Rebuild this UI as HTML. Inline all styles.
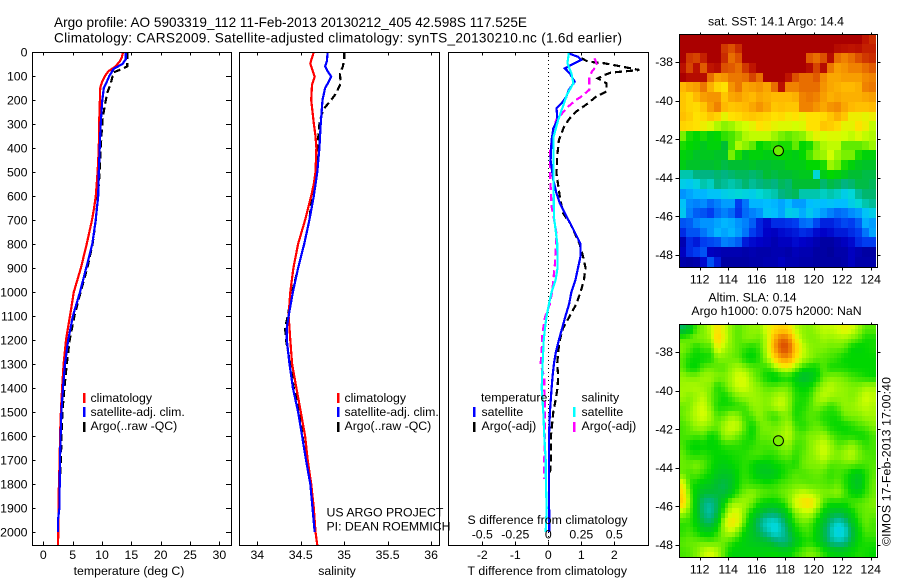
<!DOCTYPE html>
<html lang="en">
<head>
<meta charset="utf-8">
<title>Argo profile 5903319_112</title>
<style>
html,body{margin:0;padding:0;background:#fff;}
svg{display:block;font-family:"Liberation Sans",Arial,sans-serif;}
text{fill:#000;font-size:12.3px;}
.ttl{font-size:13.6px;}
</style>
</head>
<body>
<svg id="fig" xmlns="http://www.w3.org/2000/svg" width="900" height="580" viewBox="0 0 900 580">
<rect width="900" height="580" fill="#fff"/>
<defs>
<clipPath id="c1"><rect x="32" y="52" width="199" height="493"/></clipPath>
<clipPath id="c2"><rect x="239" y="52" width="200" height="493"/></clipPath>
<clipPath id="c3"><rect x="448" y="52" width="200" height="493"/></clipPath>
</defs>
<text class="ttl" x="54" y="27" textLength="473">Argo profile: AO 5903319_112 11-Feb-2013 20130212_405 42.598S 117.525E</text>
<text class="ttl" x="54" y="42.5" textLength="568">Climatology: CARS2009. Satellite-adjusted climatology: synTS_20130210.nc (1.6d earlier)</text>
<g id="layer-maps"></g>
<g id="layer-profiles"></g>

<g>
<rect x="83" y="393" width="2.5" height="10" fill="#f00"/>
<rect x="83" y="407" width="2.5" height="10" fill="#00f"/>
<rect x="83" y="422" width="2.5" height="10" fill="#000"/>
<text x="90.5" y="402">climatology</text>
<text x="90.5" y="416">satellite-adj. clim.</text>
<text x="90.5" y="430">Argo(..raw -QC)</text>
</g>
<g>
<rect x="337" y="393" width="2.5" height="10" fill="#f00"/>
<rect x="337" y="407" width="2.5" height="10" fill="#00f"/>
<rect x="337" y="422" width="2.5" height="10" fill="#000"/>
<text x="344.5" y="402">climatology</text>
<text x="344.5" y="416">satellite-adj. clim.</text>
<text x="344.5" y="430">Argo(..raw -QC)</text>
</g>
<text x="326.5" y="516.5">US ARGO PROJECT</text>
<text x="326.5" y="530.5" textLength="124">PI: DEAN ROEMMICH</text>
<g>
<text x="481" y="401.5">temperature</text>
<text x="581.5" y="401.5">salinity</text>
<rect x="473" y="407" width="2.5" height="10" fill="#00f"/>
<rect x="473" y="422" width="2.5" height="10" fill="#000"/>
<rect x="573" y="407" width="2.5" height="10" fill="#0ff"/>
<rect x="573" y="422" width="2.5" height="10" fill="#f0f"/>
<text x="481.5" y="416">satellite</text>
<text x="481.5" y="430">Argo(-adj)</text>
<text x="581.5" y="416">satellite</text>
<text x="581.5" y="430">Argo(-adj)</text>
</g>
<text x="129" y="575" text-anchor="middle">temperature (deg C)</text>
<text x="337" y="575" text-anchor="middle">salinity</text>
<text x="467.5" y="524" textLength="160">S difference from climatology</text>
<text x="467.5" y="575" textLength="159.5">T difference from climatology</text>
<text x="776" y="25.5" text-anchor="middle">sat. SST: 14.1 Argo: 14.4</text>
<text x="752.5" y="301.5" text-anchor="middle">Altim. SLA: 0.14</text>
<text x="776.5" y="315" text-anchor="middle">Argo h1000: 0.075 h2000: NaN</text>
<text transform="translate(890.5,546) rotate(-90)" textLength="169">©IMOS 17-Feb-2013 17:00:40</text>
</svg>
<script>
// ---- profile data: depths (m) and readings ----
const tempDepthRed=[0,20,40,60,80,100,125,150,200,300,400,500,600,650,700,800,900,1000,1100,1200,1300,1400,1500,1600,1700,1800,1900,2000,2054];
const tempClim=[13.6,13.4,13,12.3,11.1,10.5,10,9.7,9.65,9.5,9.45,9.25,8.95,8.65,8.3,7.4,6.4,5.2,4.55,3.87,3.45,3.2,3,2.85,2.8,2.65,2.6,2.55,2.5];
const tempDepthBlue=[0,30,50,70,100,125,150,200,300,400,500,600,700,800,900,1000,1100,1200,1300,1400,1500,1600,1700,1800,1900,1950,2000];
const tempSat=[14.05,14.05,13.5,12,11.25,10.8,10.3,10.05,9.78,9.6,9.45,9.35,8.92,8.35,7.3,6.25,5.05,4.25,3.7,3.35,3.08,2.95,2.85,2.8,2.75,2.5,2.5];
const tempDepthBlack=[0,60,75,85,100,130,170,220,280,350,400,500,600,700,800,900,1000,1100,1200,1300,1400,1500,1600,1700,1760];
const tempArgo=[14.3,14.3,13,11.9,11.8,11.5,10.9,10.5,10.1,9.9,9.8,9.6,9.3,8.95,8.4,7.5,6.35,5.3,4.5,4,3.6,3.25,3.1,3,2.9];

const salDepthRed=[0,47,82,103,137,200,297,350,400,500,550,600,700,800,900,1000,1100,1150,1200,1300,1400,1500,1600,1700,1800,1900,2000,2054];
const salClim=[34.65,34.61,34.64,34.66,34.63,34.62,34.65,34.67,34.68,34.67,34.65,34.62,34.55,34.47,34.415,34.38,34.36,34.37,34.38,34.4,34.45,34.5,34.55,34.58,34.62,34.65,34.67,34.69];
const salDepthBlue=[0,40,60,80,103,125,150,200,300,400,500,600,700,800,900,1000,1100,1150,1200,1300,1400,1500,1600,1700,1800,1900,2000];
const salSat=[34.81,34.8,34.78,34.81,34.85,34.82,34.78,34.75,34.73,34.715,34.69,34.65,34.6,34.54,34.47,34.41,34.36,34.34,34.34,34.37,34.41,34.47,34.515,34.56,34.61,34.635,34.66];
const salDepthBlack=[0,30,60,90,130,170,200,230,260,300,400,500,600,700,800,900,1000,1100,1150,1200,1300,1400,1500,1600,1700,1770];
const salArgo=[35,35,34.985,34.95,34.96,34.91,34.85,34.78,34.74,34.715,34.69,34.68,34.63,34.6,34.54,34.47,34.4,34.35,34.32,34.33,34.38,34.42,34.485,34.52,34.56,34.6];

const dtDepthSat=[5,20,33,50,68,89,124,158,186,214,235,283,318,367,450,533,589,630,693,717,800,850,900,950,1000,1050,1100,1150,1200,1250,1300,1350,1400,1500,1600,1800,2000];
const dtSat=[0.6,0.9,1,0.75,0.5,0.65,0.8,0.62,0.55,0.4,0.25,0.28,0.15,0.1,0.07,0.15,0.25,0.35,0.58,0.68,0.98,0.98,0.9,0.82,0.7,0.63,0.52,0.42,0.32,0.23,0.17,0.13,0.1,0.05,0.02,0.02,0.03];
const dtDepthArgo=[26,40,47,60,75,86,96,110,130,165,186,214,248,276,311,367,436,506,603,672,717,800,850,900,950,1000,1050,1100,1150,1200,1250,1300,1350,1400,1450,1500,1600,1700,1760];
const dtArgo=[1,1.2,1.7,2.2,2.76,1.9,1.7,1.5,1.76,1.76,1.45,1.2,0.85,0.65,0.48,0.32,0.27,0.25,0.35,0.45,0.68,0.95,1.05,1.13,1.08,0.98,0.85,0.65,0.45,0.35,0.3,0.27,0.3,0.28,0.22,0.15,0.08,0.08,0.05];
const dsDepthSat=[5,47,89,130,179,228,283,353,436,575,693,717,800,900,950,1000,1050,1100,1150,1200,1300,1400,1500,1600,1700,1800,1900,2000];
const dsSat=[0.155,0.145,0.175,0.19,0.14,0.11,0.075,0.04,0.04,0.04,0.043,0.05,0.068,0.07,0.055,0.025,0.005,-0.013,-0.025,-0.035,-0.043,-0.05,-0.038,-0.03,-0.02,-0.018,-0.012,-0.02];
const dsDepthArgo=[26,54,82,103,158,186,200,228,283,353,408,478,533,644,717,760,825,883,939,995,1050,1105,1175,1245,1300,1355,1395,1410,1470,1525,1700,1780];
const dsArgo=[0.35,0.37,0.33,0.31,0.31,0.25,0.21,0.15,0.06,0.03,0.015,0.012,0.015,0.025,0.05,0.063,0.055,0.05,0.04,0.03,0.012,-0.025,-0.045,-0.05,-0.058,-0.03,-0.03,-0.03,-0.025,-0.025,-0.03,-0.03];

// ---- axis tick labels ----
const depthTicks=[0,100,200,300,400,500,600,700,800,900,1000,1100,1200,1300,1400,1500,1600,1700,1800,1900,2000];
const tempTicks=[0,5,10,15,20,25,30];
const salTicks=[34,34.5,35,35.5,36];
const dtTicks=[-2,-1,0,1,2];
const dsTicks=[-0.5,-0.25,0,0.25,0.5];
const lonTicks=[112,114,116,118,120,122,124];
const latTicks=[-38,-40,-42,-44,-46,-48];

// ---- map grids: rows north to south, 0.5 degree cells ----
const sstGrid=[
[18.3,18.3,18.3,18.3,18.3,18.3,18.3,18.3,18.3,18.3,18.3,18.3,18.3,18.3,18.3,18.3,18.3,18.3,18.3,18.3,18.3,18.3,18.3,18.3,18.3,18.3,17.8,17.6],
[18.3,18.3,18.3,18.3,18.3,18.3,17.5,17.3,17.6,18.3,18.3,18.3,18.3,18.3,18.3,18.3,18.3,18.3,18.3,18.3,18.3,18.3,18,17.9,17.8,17.9,17.7,17.7],
[18.3,17.5,17.4,17.7,18.3,18.3,17.6,17,17.3,18.3,18.3,18.3,18.3,18.3,18.3,18.3,18.3,18.3,17.2,17,17.3,18,17,16.8,17,17.3,17.5,17.6],
[17.9,17.4,17.9,17.2,17.8,18,17.3,17.2,17,17.5,17.8,18.3,18.3,18.3,18.3,18.3,18.3,18.3,18,17.4,18,16.9,16.5,16.6,16.8,16.8,17,17.2],
[18.3,18,18,18,17,16.5,16.6,16.9,16.9,17,17.4,17,18.3,18.3,18.3,17.8,17.3,17,17,17.2,16.7,16.4,16.4,16.5,16.5,16.5,16.7,16.8],
[16.2,16.4,16.5,16.9,16.3,15.8,15.6,16.6,16.9,16.4,16.5,16.6,16.4,17,17.9,16.8,16.8,17,17,17,16.6,16.4,16.3,16.2,16.2,16.3,16.8,16.9],
[16,15.8,16.2,16.5,16.6,16.6,16,16.4,16.5,16.3,16.2,16.4,16.3,16.2,16.2,16.2,16.3,16.8,16.9,16.8,16.5,16.3,16.4,16.3,16.3,16.3,16.4,16.5],
[16,15.8,15.7,16,16.5,16.8,16.2,16,16.1,16.2,16.4,16.6,16.4,16,16.1,16,16,16.8,16.8,16.6,16.4,16.6,16.7,16.4,16.2,16.1,16.1,16.2],
[16.1,15.9,15.6,15.7,16,15.8,15.3,15.6,15.7,15.9,16,15.9,15.8,15.6,15.7,15.5,15.6,15.4,15.6,15.6,15.7,16,16.3,16,15.4,15.4,15.3,15.4],
[15.8,15.7,15.6,15.4,15.2,14.9,14.7,14.8,15,15.1,15.3,15.6,15.5,15.3,15.2,15.2,15.1,15.2,15.6,15.6,16,15.9,15.7,15.3,15.3,15.6,15.4,15],
[14.6,14.2,14.1,14.2,14,14.1,14.3,14.4,14.6,14.9,15,15,15,14.8,14.6,14.5,14.6,14.7,15,15.3,15.1,15.2,15.2,15.1,15,15.2,15,14.9],
[14.2,14.1,14,13.8,14,14,13.6,14.4,14.9,14.7,14.5,14.1,14.2,14.3,14.2,14.2,14.5,14.1,14.2,14.6,14.9,15,15,14.5,14.5,14.5,14.6,14.8],
[14,13.9,13.7,13.8,13.8,13.7,13.7,14.6,14.2,13.8,14,14,13.9,14,14.1,14,13.9,14.1,14.4,14.7,14.8,15.1,14.8,14.6,14.6,14.2,14,14],
[13.9,13.7,13.7,13.6,13.6,13.7,13.5,13.6,13.6,13.6,13.7,13.6,13.6,13.7,13.7,13.9,13.9,13.9,14.1,14.1,14.2,14.8,14.6,14.2,14,13.8,13.7,13.7],
[13,13,13.2,13.2,13.2,13.3,13.2,13.3,13.4,13.4,13.3,13.4,13.6,13.5,13.6,13.6,13.7,13.8,13.8,12.8,13.9,14.1,14,13.8,13.6,13.6,13.5,13.5],
[12.6,12.5,12.7,13,12.9,13.2,13.1,13,13.1,13.3,13.1,13.2,13.3,13.2,13.4,13.3,13.6,13.6,13.6,13.6,13.3,13.5,13.4,13.2,13.3,13.5,13.5,13.4],
[11.8,12,12.2,12.2,12.4,12.4,12.6,12.7,12.8,12.7,12.6,12.8,12.9,13,13.2,13.3,13.4,13,13,13,12.9,13,12.9,12.6,12.8,13.1,13.3,13.3],
[12.4,11.7,11.6,11.7,11.4,11.6,11.9,11.9,11,11.5,12.2,12.2,12.3,12.2,12,12.3,11.9,11.9,12.3,12.4,12.3,12.4,12.3,12.3,12.6,12.8,13,13.1],
[12.5,11.6,11.3,11.2,11,11.4,11.6,11.4,10.9,11.4,11.6,11.8,12.4,12.3,12,12.6,12.5,12.1,12.5,12.2,11.9,11.6,11.4,11.5,11.7,11.9,12.4,12.6],
[11.2,11.3,11.6,11.8,11.8,12,12.2,12.1,11.8,11.6,11.3,10.7,10.4,10.8,10.8,10.9,11,11.4,11.5,11.1,10.7,10.7,10.9,11.1,11,11.3,12.1,11.9],
[10.8,11.2,11.2,11.5,11.8,12.2,12,12.2,11.9,11.5,11,10.7,10.3,10.2,10.4,10.5,10.6,10.8,10.7,10.4,10.3,10.4,10.6,10.6,10.8,11,11.5,12],
[10,10.8,10.6,11,11.1,11.2,11.6,11.5,11.3,10.6,10.4,10.3,10.2,10,10.2,10.2,10.4,10.3,10.2,10,9.8,9.8,10,10.2,10.4,10.8,11,11],
[10.2,10.8,11,11.2,10.2,10.1,10,10,10,9.9,10,9.9,9.9,10,10,9.9,10.1,10,10,9.8,9.8,9.7,9.9,9.9,10.2,10,9.8,9.8],
[9.9,9.8,9.9,10.4,11.2,10.6,9.8,9.8,9.8,9.8,9.9,9.9,10,10,10.2,10,10,9.9,9.9,9.8,9.8,9.8,9.8,9.9,10.2,9.9,9.9,9.9]
];
const slaGrid=[
[-.2,-.1,.1,.15,.25,.42,.28,.15,.1,.15,.18,.18,.3,.42,.5,.45,.25,.18,.15,.2,.25,.25,.28,.35,.3,.2,.1,.1],
[.1,.12,.15,.15,.2,.5,.3,.15,.1,.15,.15,.12,.25,.6,.82,.78,.4,.2,.15,.15,.2,.18,.2,.2,.15,.1,.02,.02],
[.15,.1,.02,.08,.08,.35,.22,.15,.1,.05,.02,.08,.25,.65,.9,.9,.55,.28,.18,.15,.15,.12,.12,.1,0,-.03,0,.02],
[.1,.02,0,0,.02,.15,.15,.12,.1,0,-.02,.05,.2,.45,.7,.72,.45,.25,.18,.12,.1,.08,.05,0,0,0,0,0],
[.1,0,0,.1,.12,.1,.1,.18,.22,.15,.1,.08,.05,.15,.28,.32,.18,.05,0,0,.1,.02,.02,.02,0,0,0,0],
[.18,.15,.15,.2,.2,.15,.15,.22,.3,.28,.15,.08,0,-.05,0,.02,-.05,-.15,-.12,-.03,.1,.15,.15,.12,.08,.05,.02,0],
[.2,.22,.22,.18,.15,.02,.1,.2,.28,.28,.2,.15,.1,.1,.12,.12,.02,-.02,0,.1,.2,.25,.2,.18,.15,.15,.2,.2],
[.2,.15,.2,.25,.12,.05,0,.08,.15,.18,.2,.18,.15,.2,.25,.18,.05,.02,.05,.18,.25,.2,.18,.18,.15,.2,.28,.25],
[.12,.15,.25,.28,.15,.02,.02,.02,.05,.08,.18,.18,.15,.22,.27,.18,.03,.02,.08,.15,.12,.05,.1,.18,.18,.22,.25,.22],
[.12,.18,.25,.3,.2,.08,.12,.2,.15,.05,.1,.18,.1,.05,.12,.15,.02,.05,.1,.08,.03,.02,.02,.12,.15,.15,.2,.2],
[.08,.12,.2,.2,.15,.12,.22,.28,.25,.08,0,.12,.15,.12,.15,.22,.08,.03,.08,.12,.08,.02,0,0,.03,.08,.1,.15],
[.08,.1,.08,.1,0,.05,.2,.2,.12,.05,0,.12,.12,.15,.2,.25,.12,.1,.15,.15,.2,.1,.05,.02,.02,0,.02,.08],
[.08,0,-.02,0,-.02,0,.05,.05,.05,.02,.05,.08,.08,.1,.15,.18,.08,.08,.15,.22,.28,.2,.1,.12,.18,.12,.05,.08],
[.12,.05,.03,.05,.02,0,0,.02,.03,.05,.08,.08,.05,.05,.1,.12,.05,.1,.15,.2,.28,.2,.15,.2,.25,.15,.1,.08],
[.12,.12,.15,.1,.03,-.03,-.05,0,.02,.05,0,-.05,-.05,0,.02,.05,.02,.12,.15,.15,.18,.1,.1,.12,.12,.1,.08,.1],
[.12,.08,.1,.05,0,-.08,-.1,-.08,.02,.05,0,-.08,-.1,-.08,0,.05,.1,.08,.1,.12,.1,.05,.08,.05,-.02,-.08,.02,.1],
[.35,.05,0,-.05,-.08,-.15,-.18,-.1,.02,.08,.05,.05,.03,.05,.08,.1,.12,.12,.1,.1,.1,.08,.12,.05,-.05,-.12,.02,.12],
[.45,.12,-.05,-.15,-.15,-.15,-.15,-.05,.08,.15,.18,.12,.1,.08,.12,.15,.22,.28,.25,.2,.15,.15,.18,.1,0,-.03,.05,.12],
[.5,.15,-.08,-.25,-.28,-.18,0,.18,.2,.2,.12,.02,-.02,-.02,.02,.12,.3,.4,.45,.3,.1,.02,.02,.02,.08,.1,.12,.15],
[.2,.1,-.08,-.25,-.3,-.15,.12,.3,.3,.12,-.02,-.12,-.2,-.22,-.15,-.02,.15,.22,.25,.12,-.03,-.12,-.15,-.12,-.03,.08,.12,.12],
[.05,.05,-.03,-.18,-.2,-.05,.25,.42,.3,.05,-.1,-.25,-.35,-.38,-.3,-.12,.05,.12,.1,0,-.12,-.25,-.35,-.3,-.12,.02,.12,.08],
[.05,.08,.02,-.05,-.05,.05,.2,.25,.12,-.03,-.1,-.2,-.3,-.38,-.32,-.2,-.02,.05,.08,-.03,-.15,-.3,-.42,-.38,-.2,-.02,.08,.08],
[.1,.12,.12,.12,.1,.12,.12,.05,0,-.05,-.08,-.1,-.12,-.2,-.25,-.22,-.1,0,.03,-.02,-.12,-.25,-.3,-.28,-.15,0,.03,.03],
[.08,.1,.15,.25,.3,.22,.08,-.02,-.03,-.03,-.02,-.03,-.02,0,-.03,-.03,.05,.1,.15,.12,.05,-.02,-.05,-.05,0,.03,.02,0]
];
const argoLon=117.525;
const argoLat=-42.598;
const argoSst=14.55;
const argoSla=0.14;

// ---- axis functions ----
const depthY=d=>52+0.24*d;
const tempX=t=>43.3+5.87*t;
const salX=s=>257.3+86.9*(s-34);
const dtX=t=>548.3+33*t;
const dsX=s=>548.3+132*s;
const lonX=l=>699.7+14.25*(l-112);
const latY=(l,top)=>top+28+19.3*(-38-l);

// ---- colour ramp (deg C scale of the SST map) ----
const rampValues=[9.5,10.3,11,11.7,12.3,12.8,13.2,13.6,14.1,14.6,15.1,15.6,16.2,16.8,17.3,17.8,18.3];
const rampColors=[[0,0,140],[0,0,200],[0,60,240],[0,140,255],[0,190,255],[0,215,215],[0,180,130],[0,190,50],[0,215,0],[120,240,0],[210,255,0],[255,225,0],[255,185,0],[240,130,0],[220,80,0],[190,20,0],[170,0,0]];
function ramp(v){
  if(v<=rampValues[0])return 'rgb('+rampColors[0].join(',')+')';
  for(let i=1;i<rampValues.length;i++){
    if(v<=rampValues[i]){
      const f=(v-rampValues[i-1])/(rampValues[i]-rampValues[i-1]);
      const a=rampColors[i-1],b=rampColors[i];
      return 'rgb('+[0,1,2].map(k=>Math.round(a[k]+(b[k]-a[k])*f)).join(',')+')';
    }
  }
  return 'rgb('+rampColors[rampColors.length-1].join(',')+')';
}
const slaColor=s=>ramp(14.1+3.6*s);

const NS='http://www.w3.org/2000/svg';
function mk(tag,attrs,parent){
  const el=document.createElementNS(NS,tag);
  for(const k in attrs)el.setAttribute(k,attrs[k]);
  parent.appendChild(el);
  return el;
}
const profiles=document.getElementById('layer-profiles');
const maps=document.getElementById('layer-maps');

function drawLine(parent,clip,depths,vals,xf,color,dash,name){
  const pts=depths.map((d,i)=>xf(vals[i]).toFixed(1)+','+depthY(d).toFixed(1)).join(' ');
  const el=mk('polyline',{points:pts,fill:'none',stroke:color,'stroke-width':2.2,'stroke-dasharray':dash||'none','clip-path':'url(#'+clip+')','shape-rendering':'crispEdges'},parent);
  
  
}

function drawFrame(x0,x1,ticks,xf,labels,labelY,hasDepth){
  const y0=52,y1=545;
  const box=mk('rect',{x:x0+.5,y:y0+.5,width:x1-x0,height:y1-y0,fill:'none',stroke:'#000','stroke-width':1,'shape-rendering':'crispEdges'},profiles);
  
  
  ticks.forEach((t,i)=>{
    const x=Math.round(xf(t))+.5;
    const top=mk('line',{x1:x,x2:x,y1:y0,y2:y0+3.5,stroke:'#000','shape-rendering':'crispEdges'},profiles);
    
    
    const bot=mk('line',{x1:x,x2:x,y1:y1,y2:y1-3.5,stroke:'#000','shape-rendering':'crispEdges'},profiles);
    
    
    const lab=mk('text',{x:xf(t),y:labelY,'text-anchor':'middle'},profiles);
    lab.textContent=labels[i];
    
    
  });
  if(hasDepth){
    depthTicks.forEach(d=>{
      const y=Math.round(depthY(d))+.5;
      const l=mk('line',{x1:x0,x2:x0+3.5,y1:y,y2:y,stroke:'#000','shape-rendering':'crispEdges'},profiles);
      
      
      const r=mk('line',{x1:x1,x2:x1-5,y1:y,y2:y,stroke:'#000','shape-rendering':'crispEdges'},profiles);
      
      
      const lab=mk('text',{x:27.5,y:depthY(d)+4.5,'text-anchor':'end'},profiles);
      lab.textContent=d;
      
      
    });
  }
}

drawLine(profiles,'c1',tempDepthBlack,tempArgo,tempX,'#000','7 4','temperature-argo-line');
drawLine(profiles,'c1',tempDepthRed,tempClim,tempX,'#f00',null,'temperature-climatology-line');
drawLine(profiles,'c1',tempDepthBlue,tempSat,tempX,'#00f',null,'temperature-satellite-line');
drawFrame(32,231,tempTicks,tempX,tempTicks,559,true);

drawLine(profiles,'c2',salDepthBlack,salArgo,salX,'#000','7 4','salinity-argo-line');
drawLine(profiles,'c2',salDepthRed,salClim,salX,'#f00',null,'salinity-climatology-line');
drawLine(profiles,'c2',salDepthBlue,salSat,salX,'#00f',null,'salinity-satellite-line');
drawFrame(239,439,salTicks,salX,salTicks,559,false);

const zeroLine=mk('line',{x1:548.5,x2:548.5,y1:52,y2:545,stroke:'#000','stroke-dasharray':'1 3','shape-rendering':'crispEdges'},profiles);


drawLine(profiles,'c3',dtDepthArgo,dtArgo,dtX,'#000','7 4','t-difference-argo-line');
drawLine(profiles,'c3',dsDepthArgo,dsArgo,dsX,'#f0f','7 4','s-difference-argo-line');
drawLine(profiles,'c3',dtDepthSat,dtSat,dtX,'#00f',null,'t-difference-satellite-line');
drawLine(profiles,'c3',dsDepthSat,dsSat,dsX,'#0ff',null,'s-difference-satellite-line');
drawFrame(448,648,dtTicks,dtX,dtTicks,559,false);
dsTicks.forEach(s=>{
  const lab=mk('text',{x:dsX(s),y:538.5,'text-anchor':'middle'},profiles);
  lab.textContent=s;
  
  
});

// ---- maps ----
const lon0=110.56,lat0=-36.55,dLon=0.493,dLat=0.502;
function cellBox(c,r,dx,dy,top){
  const x=Math.round(lonX(lon0+c*dx)),x2=Math.round(lonX(lon0+(c+1)*dx));
  const y=Math.round(latY(lat0-r*dy,top)),y2=Math.round(latY(lat0-(r+1)*dy,top));
  return {x:x,y:y,width:x2-x,height:y2-y};
}
function drawSst(top){
  sstGrid.forEach((row,r)=>row.forEach((v,c)=>{
    const a=cellBox(c,r,dLon,dLat,top);
    a.fill=ramp(v);
    a['shape-rendering']='crispEdges';
    const el=mk('rect',a,maps);
    
    
  }));
}
function slaAt(fr,fc){
  const R=slaGrid.length-1,C=slaGrid[0].length-1;
  fr=Math.max(0,Math.min(R,fr));fc=Math.max(0,Math.min(C,fc));
  const r=Math.min(R-1,Math.floor(fr)),c=Math.min(C-1,Math.floor(fc));
  const a=fr-r,b=fc-c;
  return (slaGrid[r][c]*(1-b)+slaGrid[r][c+1]*b)*(1-a)+(slaGrid[r+1][c]*(1-b)+slaGrid[r+1][c+1]*b)*a;
}
function drawSla(top){
  const R=slaGrid.length,C=slaGrid[0].length;
  for(let r=0;r<R*2;r++)for(let c=0;c<C*2;c++){
    const v=slaAt((r-0.5)/2,(c-0.5)/2);
    const a=cellBox(c,r,dLon/2,dLat/2,top);
    a.fill=slaColor(v);
    a['shape-rendering']='crispEdges';
    const el=mk('rect',a,maps);
    
    
  }
}
function drawMapAxes(top,dotFill,mapName){
  const x0=679,x1=877,y0=top,y1=top+233;
  const box=mk('rect',{x:x0+.5,y:y0+.5,width:x1-x0,height:y1-y0,fill:'none',stroke:'#000','shape-rendering':'crispEdges'},maps);
  
  
  lonTicks.forEach(l=>{
    const x=Math.round(lonX(l))+.5;
    const a=mk('line',{x1:x,x2:x,y1:y0-1.5,y2:y0,stroke:'#000','shape-rendering':'crispEdges'},maps);
    
    
    const b=mk('line',{x1:x,x2:x,y1:y1,y2:y1+3.5,stroke:'#000','shape-rendering':'crispEdges'},maps);
    
    
    const t=mk('text',{x:lonX(l),y:y1+16.3,'text-anchor':'middle'},maps);
    t.textContent=l;
    
    
  });
  latTicks.forEach(l=>{
    const y=Math.round(latY(l,top))+.5;
    const a=mk('line',{x1:x0-3.5,x2:x0,y1:y,y2:y,stroke:'#000','shape-rendering':'crispEdges'},maps);
    
    
    const b=mk('line',{x1:x1,x2:x1+3.5,y1:y,y2:y,stroke:'#000','shape-rendering':'crispEdges'},maps);
    
    
    const t=mk('text',{x:673,y:latY(l,top)+4.2,'text-anchor':'end'},maps);
    t.textContent=l;
    
    
  });
  const dot=mk('circle',{cx:lonX(argoLon),cy:latY(argoLat,top),r:5,fill:dotFill,stroke:'#000','stroke-width':1},maps);
  
  
}
drawSst(34);
drawMapAxes(34,ramp(argoSst),'sst-map');
drawSla(324);
drawMapAxes(324,slaColor(argoSla),'sla-map');
</script>
</body>
</html>
